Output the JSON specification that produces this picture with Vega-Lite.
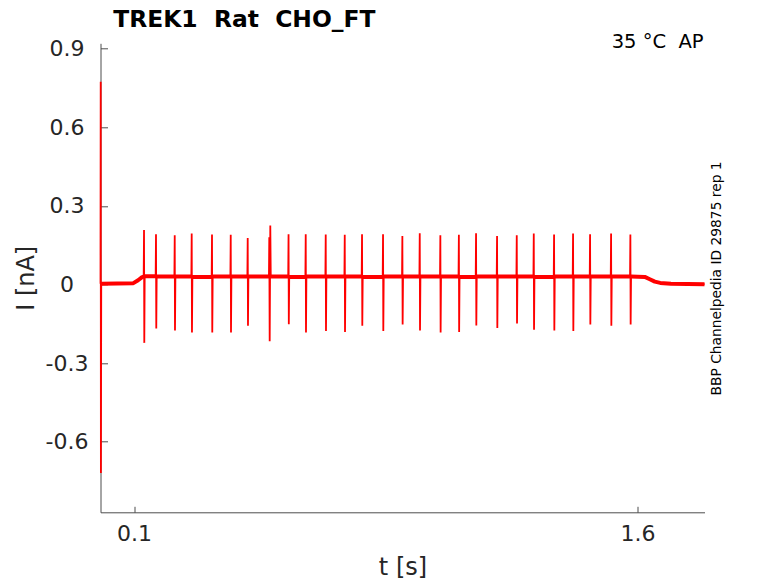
{
  "$schema": "https://vega.github.io/schema/vega-lite/v6.json",
  "description": "TREK1 Rat CHO_FT current trace at 35 C, AP protocol.",
  "width": 604,
  "height": 469,
  "autosize": {"type": "none"},
  "padding": {"left": 100.5, "top": 43.3, "right": 73.5, "bottom": 70.7},
  "background": "white",
  "title": {
    "text": "TREK1\u00a0\u00a0Rat\u00a0\u00a0CHO_FT",
    "anchor": "start",
    "frame": "group",
    "font": "DejaVu Sans",
    "fontSize": 23.4,
    "fontWeight": "bold",
    "color": "#000000",
    "baseline": "alphabetic",
    "dx": 12.8,
    "offset": -18
  },
  "layer": [
    {
      "data": {
        "values": [
          {"t": 0, "i": 0.003, "part": "base"},
          {"t": 0.0006, "i": 0.774, "part": "spike"},
          {"t": 0.0012, "i": -0.72, "part": "spike"},
          {"t": 0.0022, "i": 0.003, "part": "base"},
          {"t": 0.05, "i": 0.004, "part": "base"},
          {"t": 0.098, "i": 0.005, "part": "base"},
          {"t": 0.112, "i": 0.016, "part": "base"},
          {"t": 0.124, "i": 0.028, "part": "base"},
          {"t": 0.1287, "i": 0.03, "part": "base"},
          {"t": 0.1297, "i": 0.208, "part": "spike"},
          {"t": 0.1305, "i": -0.223, "part": "spike"},
          {"t": 0.1317, "i": 0.031, "part": "base"},
          {"t": 0.1644, "i": 0.031, "part": "base"},
          {"t": 0.1654, "i": 0.192, "part": "spike"},
          {"t": 0.1662, "i": -0.168, "part": "spike"},
          {"t": 0.1674, "i": 0.03, "part": "base"},
          {"t": 0.2202, "i": 0.03, "part": "base"},
          {"t": 0.2212, "i": 0.188, "part": "spike"},
          {"t": 0.222, "i": -0.176, "part": "spike"},
          {"t": 0.2232, "i": 0.03, "part": "base"},
          {"t": 0.2708, "i": 0.03, "part": "base"},
          {"t": 0.2718, "i": 0.195, "part": "spike"},
          {"t": 0.2726, "i": -0.183, "part": "spike"},
          {"t": 0.2738, "i": 0.029, "part": "base"},
          {"t": 0.3313, "i": 0.029, "part": "base"},
          {"t": 0.3323, "i": 0.191, "part": "spike"},
          {"t": 0.3331, "i": -0.183, "part": "spike"},
          {"t": 0.3343, "i": 0.03, "part": "base"},
          {"t": 0.3871, "i": 0.03, "part": "base"},
          {"t": 0.3881, "i": 0.19, "part": "spike"},
          {"t": 0.3889, "i": -0.183, "part": "spike"},
          {"t": 0.3901, "i": 0.03, "part": "base"},
          {"t": 0.4377, "i": 0.03, "part": "base"},
          {"t": 0.4387, "i": 0.177, "part": "spike"},
          {"t": 0.4395, "i": -0.158, "part": "spike"},
          {"t": 0.4407, "i": 0.03, "part": "base"},
          {"t": 0.502, "i": 0.03, "part": "base"},
          {"t": 0.503, "i": 0.18, "part": "spike"},
          {"t": 0.5042, "i": -0.217, "part": "spike"},
          {"t": 0.506, "i": 0.225, "part": "spike"},
          {"t": 0.5074, "i": 0.03, "part": "base"},
          {"t": 0.5594, "i": 0.03, "part": "base"},
          {"t": 0.5604, "i": 0.192, "part": "spike"},
          {"t": 0.5612, "i": -0.152, "part": "spike"},
          {"t": 0.5624, "i": 0.029, "part": "base"},
          {"t": 0.6106, "i": 0.029, "part": "base"},
          {"t": 0.6116, "i": 0.192, "part": "spike"},
          {"t": 0.6124, "i": -0.183, "part": "spike"},
          {"t": 0.6136, "i": 0.03, "part": "base"},
          {"t": 0.6702, "i": 0.03, "part": "base"},
          {"t": 0.6712, "i": 0.191, "part": "spike"},
          {"t": 0.672, "i": -0.178, "part": "spike"},
          {"t": 0.6732, "i": 0.03, "part": "base"},
          {"t": 0.7269, "i": 0.03, "part": "base"},
          {"t": 0.7279, "i": 0.19, "part": "spike"},
          {"t": 0.7287, "i": -0.181, "part": "spike"},
          {"t": 0.7299, "i": 0.03, "part": "base"},
          {"t": 0.7784, "i": 0.03, "part": "base"},
          {"t": 0.7794, "i": 0.192, "part": "spike"},
          {"t": 0.7802, "i": -0.158, "part": "spike"},
          {"t": 0.7814, "i": 0.029, "part": "base"},
          {"t": 0.841, "i": 0.029, "part": "base"},
          {"t": 0.842, "i": 0.192, "part": "spike"},
          {"t": 0.8428, "i": -0.178, "part": "spike"},
          {"t": 0.844, "i": 0.03, "part": "base"},
          {"t": 0.8986, "i": 0.03, "part": "base"},
          {"t": 0.8996, "i": 0.185, "part": "spike"},
          {"t": 0.9004, "i": -0.153, "part": "spike"},
          {"t": 0.9016, "i": 0.03, "part": "base"},
          {"t": 0.9504, "i": 0.03, "part": "base"},
          {"t": 0.9514, "i": 0.196, "part": "spike"},
          {"t": 0.9522, "i": -0.176, "part": "spike"},
          {"t": 0.9534, "i": 0.03, "part": "base"},
          {"t": 1.0118, "i": 0.03, "part": "base"},
          {"t": 1.0128, "i": 0.188, "part": "spike"},
          {"t": 1.0136, "i": -0.183, "part": "spike"},
          {"t": 1.0148, "i": 0.03, "part": "base"},
          {"t": 1.067, "i": 0.03, "part": "base"},
          {"t": 1.068, "i": 0.19, "part": "spike"},
          {"t": 1.0688, "i": -0.181, "part": "spike"},
          {"t": 1.07, "i": 0.029, "part": "base"},
          {"t": 1.1182, "i": 0.029, "part": "base"},
          {"t": 1.1192, "i": 0.196, "part": "spike"},
          {"t": 1.12, "i": -0.157, "part": "spike"},
          {"t": 1.1212, "i": 0.03, "part": "base"},
          {"t": 1.1808, "i": 0.03, "part": "base"},
          {"t": 1.1818, "i": 0.185, "part": "spike"},
          {"t": 1.1826, "i": -0.166, "part": "spike"},
          {"t": 1.1838, "i": 0.03, "part": "base"},
          {"t": 1.2395, "i": 0.03, "part": "base"},
          {"t": 1.2405, "i": 0.188, "part": "spike"},
          {"t": 1.2413, "i": -0.149, "part": "spike"},
          {"t": 1.2425, "i": 0.03, "part": "base"},
          {"t": 1.2902, "i": 0.03, "part": "base"},
          {"t": 1.2912, "i": 0.195, "part": "spike"},
          {"t": 1.292, "i": -0.173, "part": "spike"},
          {"t": 1.2932, "i": 0.029, "part": "base"},
          {"t": 1.3507, "i": 0.029, "part": "base"},
          {"t": 1.3517, "i": 0.191, "part": "spike"},
          {"t": 1.3525, "i": -0.176, "part": "spike"},
          {"t": 1.3537, "i": 0.03, "part": "base"},
          {"t": 1.4073, "i": 0.03, "part": "base"},
          {"t": 1.4083, "i": 0.195, "part": "spike"},
          {"t": 1.4091, "i": -0.178, "part": "spike"},
          {"t": 1.4103, "i": 0.03, "part": "base"},
          {"t": 1.458, "i": 0.03, "part": "base"},
          {"t": 1.459, "i": 0.192, "part": "spike"},
          {"t": 1.4598, "i": -0.153, "part": "spike"},
          {"t": 1.461, "i": 0.03, "part": "base"},
          {"t": 1.5206, "i": 0.03, "part": "base"},
          {"t": 1.5216, "i": 0.195, "part": "spike"},
          {"t": 1.5224, "i": -0.158, "part": "spike"},
          {"t": 1.5236, "i": 0.03, "part": "base"},
          {"t": 1.5781, "i": 0.03, "part": "base"},
          {"t": 1.5791, "i": 0.191, "part": "spike"},
          {"t": 1.5799, "i": -0.153, "part": "spike"},
          {"t": 1.5811, "i": 0.03, "part": "base"},
          {"t": 1.622, "i": 0.029, "part": "base"},
          {"t": 1.637, "i": 0.02, "part": "base"},
          {"t": 1.652, "i": 0.011, "part": "base"},
          {"t": 1.668, "i": 0.006, "part": "base"},
          {"t": 1.7, "i": 0.003, "part": "base"},
          {"t": 1.75, "i": 0.002, "part": "base"},
          {"t": 1.8, "i": 0.001, "part": "base"}
        ]
      },
      "encoding": {
        "x": {
          "field": "t",
          "type": "quantitative",
          "scale": {"domain": [0, 1.8], "nice": false, "zero": false},
          "axis": {
            "title": "t [s]",
            "values": [0.1, 1.6],
            "format": ".1f",
            "tickSize": -6,
            "labelPadding": 17,
            "titlePadding": 11
          }
        },
        "y": {
          "field": "i",
          "type": "quantitative",
          "scale": {"domain": [-0.87, 0.921], "nice": false, "zero": false},
          "axis": {
            "title": "I [nA]",
            "values": [-0.6, -0.3, 0, 0.3, 0.6, 0.9],
            "labelExpr": "datum.value == 0 ? '0' : (datum.value < 0 ? '-' : '') + format(abs(datum.value), '.1f')",
            "labelAlign": "center",
            "tickSize": -7,
            "labelPadding": 41,
            "titlePadding": 6.5
          }
        }
      },
      "layer": [
        {
          "transform": [{"filter": "datum.part == 'base'"}],
          "mark": {"type": "line", "color": "#ff0000", "strokeWidth": 4, "strokeJoin": "round"}
        },
        {
          "mark": {"type": "line", "color": "#ff0000", "strokeWidth": 1.8}
        }
      ]
    },
    {
      "data": {"values": [{"label": "35 °C\u00a0 AP"}]},
      "mark": {
        "type": "text",
        "align": "right",
        "baseline": "alphabetic",
        "font": "DejaVu Sans",
        "fontSize": 19.5,
        "color": "#000000",
        "dx": -1,
        "dy": 5
      },
      "encoding": {
        "x": {"datum": 1.8, "type": "quantitative"},
        "y": {"datum": 0.921, "type": "quantitative"},
        "text": {"field": "label"}
      }
    },
    {
      "data": {"values": [{"label": "BBP Channelpedia ID 29875 rep 1"}]},
      "mark": {
        "type": "text",
        "align": "center",
        "baseline": "alphabetic",
        "angle": 270,
        "font": "DejaVu Sans",
        "fontSize": 13.8,
        "color": "#000000",
        "dy": 16.8
      },
      "encoding": {
        "x": {"datum": 1.8, "type": "quantitative"},
        "y": {"datum": 0.023, "type": "quantitative"},
        "text": {"field": "label"}
      }
    }
  ],
  "config": {
    "view": {"stroke": null},
    "font": "DejaVu Sans",
    "axis": {
      "grid": false,
      "domainColor": "#4d4d4d",
      "tickColor": "#4d4d4d",
      "domainWidth": 1,
      "tickWidth": 1,
      "labelColor": "#262626",
      "titleColor": "#262626",
      "labelFont": "DejaVu Sans",
      "titleFont": "DejaVu Sans",
      "labelFontSize": 22,
      "titleFontSize": 24,
      "titleFontWeight": "normal"
    }
  }
}
